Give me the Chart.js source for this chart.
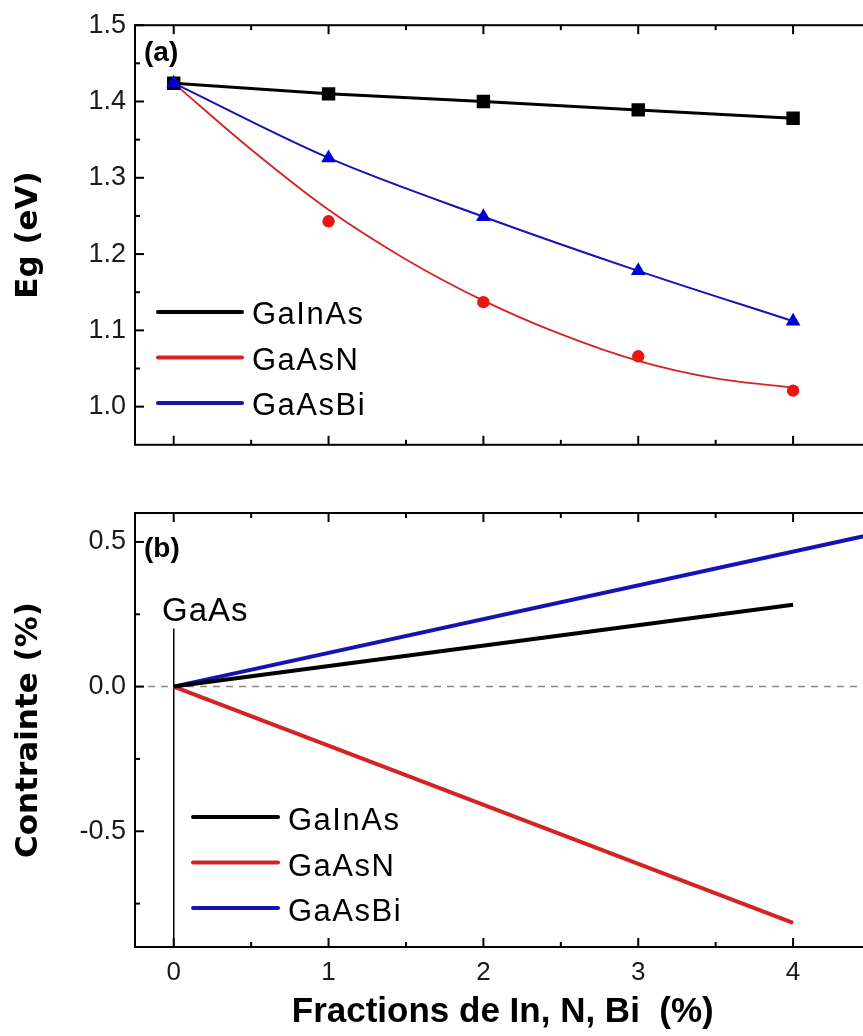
<!DOCTYPE html>
<html><head><meta charset="utf-8">
<script src="https://cdn.jsdelivr.net/npm/chart.js@4.4.1/dist/chart.umd.min.js"></script>
<style>
html,body{margin:0;padding:0;background:#fff;overflow:hidden;width:863px;height:1036px;}
#w1{position:absolute;left:0;top:0;width:880px;height:470px;}
#w2{position:absolute;left:0;top:470px;width:880px;height:566px;}
</style></head><body>
<div id="w1"><canvas id="c1"></canvas></div>
<div id="w2"><canvas id="c2"></canvas></div>
<script>
// ---- data ----
const fractions = [0, 1, 2, 3, 4];
const egGaInAs = [1.424, 1.410, 1.400, 1.389, 1.378];
const egGaAsN  = [1.424, 1.243, 1.137, 1.066, 1.021];
const egGaAsBi = [1.424, 1.326, 1.249, 1.178, 1.112];
const fitGaAsNX = [0, 0.5, 1, 1.5, 2, 2.5, 3, 3.5, 4];
const fitGaAsNY = [1.424, 1.337, 1.258, 1.193, 1.139, 1.095, 1.060, 1.037, 1.025];
const strainX = [0, 4];
const strainGaInAs = [0, 0.283];
const strainGaAsN  = [0, -0.817];
const strainBiX = [0, 4.5];
const strainGaAsBi = [0, 0.525];
const zeroLineX = [-0.25, 4.5];
const zeroLineY = [0, 0];
const gaasLineX = [0, 0];
const gaasLineY = [0.2, -0.9];
const seriesNames = ['GaInAs', 'GaAsN', 'GaAsBi'];
const xMajorTicks = [0, 1, 2, 3, 4];
const xMinorTicks = [0.5, 1.5, 2.5, 3.5];
const egMajorTicks = [1.0, 1.1, 1.2, 1.3, 1.4, 1.5];
const egMinorTicks = [1.05, 1.15, 1.25, 1.35, 1.45];
const strainMajorTicks = [-0.5, 0.0, 0.5];
const strainMinorTicks = [-0.75, -0.25, 0.25];

const pts = (xs, ys) => xs.map((x, i) => ({x, y: ys[i]}));
const C_BLACK = '#000000', C_RED = '#d42323', C_RED_M = '#ee1414', C_BLUE = '#1414b4', C_BLUE_M = '#0000d8';
const seriesColors = [C_BLACK, C_RED, C_BLUE];
const SANS = "'Liberation Sans', Arial, sans-serif";

const framePlugin = {
  id: 'frameTicks',
  afterDatasetsDraw(chart, args, o) {
    const {ctx, chartArea: a, scales: {x, y}} = chart;
    ctx.save();
    ctx.strokeStyle = '#000';
    ctx.lineWidth = 2;
    const ln = (x1, y1, x2, y2) => { ctx.beginPath(); ctx.moveTo(x1, y1); ctx.lineTo(x2, y2); ctx.stroke(); };
    ctx.strokeRect(a.left, a.top, a.right - a.left, a.bottom - a.top);
    o.xMajor.forEach(v => { const p = x.getPixelForValue(v); ln(p, a.bottom, p, a.bottom - 9); ln(p, a.top, p, a.top + 9); });
    o.xMinor.forEach(v => { const p = x.getPixelForValue(v); ln(p, a.bottom, p, a.bottom - 5); ln(p, a.top, p, a.top + 5); });
    o.yMajor.forEach(v => { const p = y.getPixelForValue(v); ln(a.left, p, a.left + 9, p); });
    o.yMinor.forEach(v => { const p = y.getPixelForValue(v); ln(a.left, p, a.left + 5, p); });
    ctx.restore();
  }
};

const legendPlugin = {
  id: 'lineLegend',
  afterDraw(chart, args, o) {
    const ctx = chart.ctx;
    ctx.save();
    if ('letterSpacing' in ctx) ctx.letterSpacing = o.spacing + 'px';
    ctx.textBaseline = 'alphabetic';
    ctx.textAlign = 'left';
    seriesNames.forEach((name, i) => {
      const yy = o.y + i * o.dy;
      ctx.strokeStyle = seriesColors[i];
      ctx.lineWidth = 4;
      ctx.lineCap = 'round';
      ctx.beginPath(); ctx.moveTo(o.x, yy); ctx.lineTo(o.x + o.len, yy); ctx.stroke();
      ctx.fillStyle = '#000';
      ctx.font = o.font;
      ctx.fillText(name, o.x + o.len + o.gap, yy + o.base);
    });
    (o.texts || []).forEach(t => {
      ctx.font = t.font; ctx.fillStyle = '#000';
      if ('letterSpacing' in ctx) ctx.letterSpacing = (t.spacing || 0) + 'px';
      ctx.fillText(t.text, t.x, t.y);
    });
    ctx.restore();
  }
};

function yScale(min, max, ticks, title, fmt) {
  return {
    type: 'linear', min, max,
    afterFit: s => { s.width = 135; },
    afterBuildTicks: s => { s.ticks = ticks.map(v => ({value: v})); },
    grid: {display: false, drawTicks: false, tickLength: 0},
    border: {display: false},
    ticks: {padding: 9, color: '#1a1a1a', font: {family: SANS, size: 27}, callback: v => fmt(v)},
    title: {display: true, text: title, color: '#000', padding: {top: 10, bottom: 0},
            font: {family: "'DejaVu Sans', sans-serif", weight: 'bold', size: 31}}
  };
}

Chart.defaults.animation = false;
Chart.defaults.font.family = SANS;

new Chart(document.getElementById('c1'), {
  type: 'scatter',
  data: {
    datasets: [
      {label: 'GaAsBi', order: 0, data: pts(fractions, egGaAsBi), showLine: true, borderColor: C_BLUE, backgroundColor: C_BLUE_M,
       borderWidth: 2, cubicInterpolationMode: 'monotone', pointStyle: 'triangle', pointRadius: 8.5, pointBorderWidth: 0},
      {label: 'GaInAs', order: 1, data: pts(fractions, egGaInAs), showLine: true, borderColor: C_BLACK, backgroundColor: C_BLACK,
       borderWidth: 3, pointStyle: 'rect', pointRadius: 9.5, pointBorderWidth: 0},
      {label: 'GaAsN', order: 2, data: pts(fractions, egGaAsN), showLine: false, borderColor: C_RED_M, backgroundColor: C_RED_M,
       pointStyle: 'circle', pointRadius: 6.2, pointBorderWidth: 0},
      {label: 'GaAsN fit', order: 3, data: pts(fitGaAsNX, fitGaAsNY), showLine: true, borderColor: C_RED, borderWidth: 1.8,
       cubicInterpolationMode: 'monotone', pointRadius: 0}
    ]
  },
  options: {
    responsive: true, maintainAspectRatio: false,
    layout: {padding: {left: 0, top: 19, right: 9.5, bottom: 19}},
    plugins: {
      legend: {display: false}, tooltip: {enabled: false},
      frameTicks: {xMajor: xMajorTicks, xMinor: xMinorTicks, yMajor: egMajorTicks, yMinor: egMinorTicks},
      lineLegend: {x: 158, y: 312, dy: 45.5, len: 84, gap: 10, base: 12, spacing: 1.5, font: '31px ' + SANS,
        texts: [{text: '(a)', x: 144, y: 61, font: 'bold 28px ' + SANS}]}
    },
    scales: {
      x: {type: 'linear', min: -0.25, max: 4.5, display: false},
      y: yScale(0.95, 1.5, egMajorTicks, 'Eg (eV)', v => v.toFixed(1))
    }
  },
  plugins: [framePlugin, legendPlugin]
});

new Chart(document.getElementById('c2'), {
  type: 'scatter',
  data: {
    datasets: [
      {label: 'GaInAs', data: pts(strainX, strainGaInAs), showLine: true, borderColor: C_BLACK, borderWidth: 4, pointRadius: 0},
      {label: 'GaAsN', data: pts(strainX, strainGaAsN), showLine: true, borderColor: C_RED, borderWidth: 4, pointRadius: 0},
      {label: 'GaAsBi', data: pts(strainBiX, strainGaAsBi), showLine: true, borderColor: C_BLUE, borderWidth: 4, pointRadius: 0},
      {label: 'zero', data: pts(zeroLineX, zeroLineY), showLine: true, borderColor: '#888', borderWidth: 1.5, borderDash: [7, 6], pointRadius: 0},
      {label: 'GaAs', data: pts(gaasLineX, gaasLineY), showLine: true, borderColor: '#000', borderWidth: 1, pointRadius: 0}
    ]
  },
  options: {
    responsive: true, maintainAspectRatio: false,
    layout: {padding: {left: 0, top: 43, right: 9.5, bottom: 0}},
    plugins: {
      legend: {display: false}, tooltip: {enabled: false},
      frameTicks: {xMajor: xMajorTicks, xMinor: xMinorTicks, yMajor: strainMajorTicks, yMinor: strainMinorTicks},
      lineLegend: {x: 193, y: 347, dy: 45.5, len: 85, gap: 10, base: 13, spacing: 1.5, font: '31px ' + SANS,
        texts: [{text: '(b)', x: 144, y: 87, font: 'bold 28px ' + SANS},
                {text: 'GaAs', x: 162, y: 151, font: '33px ' + SANS, spacing: 1}]}
    },
    scales: {
      x: {type: 'linear', min: -0.25, max: 4.5,
          afterFit: s => { s.height = 89; },
          afterBuildTicks: s => { s.ticks = xMajorTicks.map(v => ({value: v})); },
          grid: {display: false, drawTicks: false, tickLength: 0},
          border: {display: false},
          ticks: {padding: 10, color: '#1a1a1a', font: {family: SANS, size: 26}, callback: v => String(v)},
          title: {display: true, text: 'Fractions de In, N, Bi  (%)', color: '#000', padding: {top: 0, bottom: 3},
                  font: {family: SANS, weight: 'bold', size: 35}}},
      y: yScale(-0.9, 0.6, strainMajorTicks, 'Contrainte (%)', v => v.toFixed(1))
    }
  },
  plugins: [framePlugin, legendPlugin]
});
</script>
</body></html>
